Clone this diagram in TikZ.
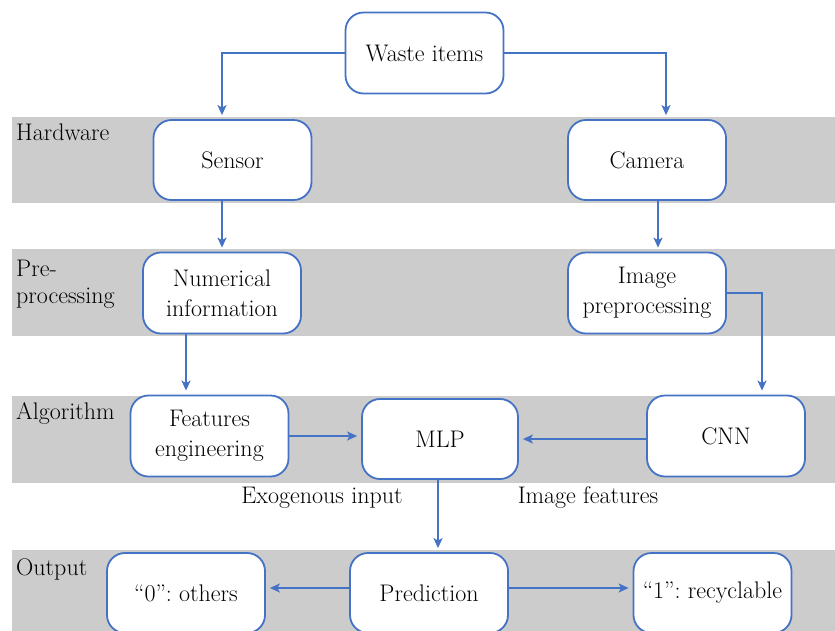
\documentclass[tikz,border=0pt]{standalone}
\usetikzlibrary{arrows.meta}
\definecolor{lineblue}{RGB}{68,114,196}
\definecolor{bandgray}{RGB}{204,204,204}
\begin{document}
\frenchspacing
\begin{tikzpicture}[x=1pt,y=-1pt,
  box/.style={draw=lineblue, line width=1.8pt, fill=white, rounded corners=18pt,
    minimum width=158pt, minimum height=80pt, inner sep=0pt, align=center,
    font=\fontsize{24}{30}\selectfont},
  conn/.style={draw=lineblue, line width=1.8pt,
    -{Stealth[length=10pt,width=9pt,inset=2.5pt]}, shorten >=4pt},
  band/.style={fill=bandgray, draw=none},
  lbl/.style={font=\fontsize{24}{27}\selectfont, inner sep=0pt, anchor=base west, align=left},
  elbl/.style={font=\fontsize{24}{27}\selectfont, inner sep=0pt, anchor=base}]
\useasboundingbox (0,0) rectangle (835,630);
\clip (0,0) rectangle (835,630);
% bands
\fill[band] (12,117) rectangle (835,203);
\fill[band] (12,249) rectangle (835,336);
\fill[band] (12,396) rectangle (835,483);
\fill[band] (12,550) rectangle (835,632);
% band labels
\node[lbl] (lhw) at (16,140) {Hardware};
\node[lbl] (lpre) at (16,303.5) {Pre-\\processing};
\node[lbl] (lalg) at (16,419) {Algorithm};
\node[lbl] (lout) at (16,575) {Output};
% boxes
\node[box, minimum height=81pt] (waste) at (424.5,53) {Waste items};
\node[box] (sensor) at (232.5,160) {Sensor};
\node[box] (camera) at (647,160) {Camera};
\node[box, minimum height=81pt] (numerical) at (222,293) {Numerical\\information};
\node[box, minimum height=81pt] (imgpre) at (647,293) {Image\\preprocessing};
\node[box, minimum height=81pt] (features) at (209.5,436) {Features\\engineering};
\node[box, minimum width=156pt] (mlp) at (440,439) {MLP};
\node[box, minimum height=81pt] (cnn) at (726,436) {CNN};
\node[box] (zero) at (186,593) {“0”: others};
\node[box] (pred) at (429,593) {Prediction};
\node[box] (one) at (712.5,593) {“1”: recyclable};
% edge labels
\node[elbl] (exo) at (322,503) {Exogenous input};
\node[elbl] (imf) at (588,503) {Image features};
% connectors
\draw[conn] (waste.west) -| ([xshift=-10.5pt]sensor.north);
\draw[conn] (waste.east) -| ([xshift=19pt]camera.north);
\draw[conn] (numerical.north |- sensor.south) -- (numerical.north);
\draw[conn] ([xshift=11pt]camera.south) -- ([xshift=11pt]imgpre.north);
\draw[conn] (imgpre.east) -| ([xshift=36pt]cnn.north);
\draw[conn] ([xshift=-36pt]numerical.south) -- ([xshift=-36pt]numerical.south |- features.north);
\draw[conn] (features.east) -- (features.east -| mlp.west);
\draw[conn] (mlp.east -| cnn.west) -- (mlp.east);
\draw[conn] ([xshift=-2pt]mlp.south) -- ([xshift=-2pt]mlp.south |- pred.north);
\draw[conn] ([yshift=5pt]pred.west) -- ([yshift=5pt]zero.east);
\draw[conn] ([yshift=5pt]pred.east) -- ([yshift=5pt]one.west);
\end{tikzpicture}
\end{document}
